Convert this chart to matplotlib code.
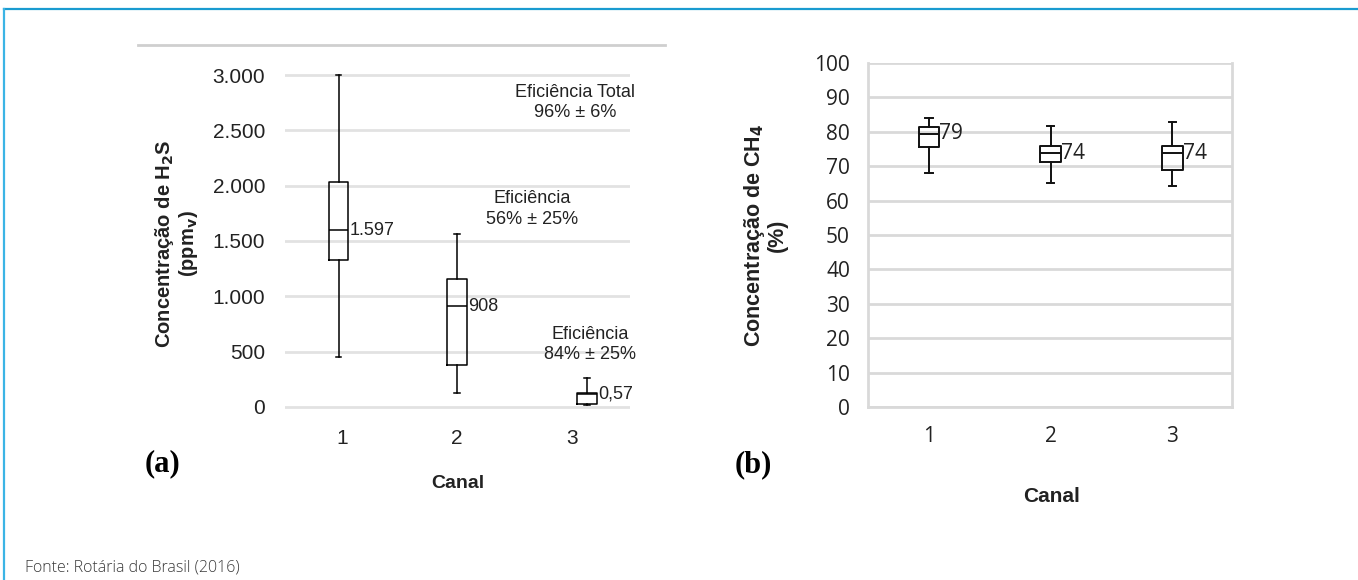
#
# Box plots of H2S and CH4 concentration per channel
#

import matplotlib.pyplot as plt
from matplotlib.lines import Line2D

# Data
canais = ["1", "2", "3"]

# (a) H2S concentration (ppmv)
h2s_whislo = [450, 130, 20]
h2s_q1 = [1330, 380, 30]
h2s_med = [1597, 908, 120]
h2s_q3 = [2030, 1160, 125]
h2s_whishi = [3000, 1560, 260]
h2s_labels = ["1.597", "908", "0,57"]
h2s_ticks = [0, 500, 1000, 1500, 2000, 2500, 3000]
h2s_ticklabels = ["0", "500", "1.000", "1.500", "2.000", "2.500", "3.000"]
efic_textos = ["Eficiência Total\n96% ± 6%", "Eficiência\n56% ± 25%", "Eficiência\n84% ± 25%"]

# (b) CH4 concentration (%)
ch4_whislo = [68.0, 65.2, 64.2]
ch4_q1 = [75.6, 71.2, 68.9]
ch4_med = [79.4, 73.8, 73.8]
ch4_q3 = [81.4, 76.0, 76.0]
ch4_whishi = [84.0, 81.8, 82.8]
ch4_labels = ["79", "74", "74"]

W, H = 1358, 580
fig = plt.figure(figsize=(W / 100, H / 100), dpi=100)

def px_axes(x0, y0, x1, y1):
    return fig.add_axes([x0 / W, 1 - y1 / H, (x1 - x0) / W, (y1 - y0) / H])

# frame
fig.add_artist(Line2D([4 / W, 1], [1 - 9 / H, 1 - 9 / H], color="#1a9bd0", lw=1.6))
fig.add_artist(Line2D([4 / W, 4 / W], [0, 1 - 9 / H], color="#3bb4e5", lw=1.6))
fig.add_artist(Line2D([138 / W, 665 / W], [1 - 45 / H, 1 - 45 / H], color="#cfcfcf", lw=2))
fig.text(25 / W, 1 - 568 / H, "Fonte: Rotária do Brasil (2016)", fontsize=11.5,
         color="#3a3a3a", family="Open Sans", fontweight="light", va="center", ha="left")

arial = ["Liberation Sans Narrow", "Liberation Sans"]

# ---------- panel (a)
ax = px_axes(284.5, 64, 629.5, 423.5)
stats = []
for i in range(3):
    stats.append(dict(whislo=h2s_whislo[i], q1=h2s_q1[i], med=h2s_med[i],
                      q3=h2s_q3[i], whishi=h2s_whishi[i], fliers=[]))
pos_a = [0.97, 2.0, 3.13]
lp = dict(color="black", lw=1.1)
ax.bxp(stats, positions=pos_a, widths=0.17, showfliers=False,
       boxprops=lp, medianprops=lp, whiskerprops=lp, capprops=lp, capwidths=0.05)
for i in range(3):
    ax.text(pos_a[i] + 0.095, h2s_med[i], h2s_labels[i], fontsize=13,
            family=arial, va="center", ha="left", color="#222222")
ax.text(3.03, 2755, efic_textos[0], fontsize=13, family=arial, ha="center", va="center",
        color="#222222", linespacing=1.25)
ax.text(2.65, 1790, efic_textos[1], fontsize=13, family=arial, ha="center", va="center",
        color="#222222", linespacing=1.25)
ax.text(3.16, 564, efic_textos[2], fontsize=13, family=arial, ha="center", va="center",
        color="#222222", linespacing=1.25)
ax.set_xlim(0.5, 3.5)
ax.set_ylim(-150, 3100)
ax.set_yticks(h2s_ticks)
ax.set_yticklabels(h2s_ticklabels, family=arial, fontsize=15, color="#222222")
ax.set_xticks([1, 2, 3])
ax.set_xticklabels(canais, family=arial, fontsize=15, color="#222222")
ax.tick_params(length=0, pad=14)
ax.tick_params(axis="x", pad=4)
ax.grid(axis="y", color="#e2e2e2", lw=2)
ax.set_axisbelow(True)
for s in ax.spines.values():
    s.set_visible(False)
ax.set_ylabel("Concentração de H$_\\mathbf{2}$S\n(ppm$_\\mathbf{v}$)", fontsize=14.5,
              fontweight="bold", family=arial, color="#222222", linespacing=1.05)
ax.yaxis.set_label_coords(-0.245, 0.5)
fig.text(458 / W, 1 - 483 / H, "Canal", fontsize=14, fontweight="bold", family=arial,
         ha="center", va="center", color="#222222")
fig.text(145 / W, 1 - 464 / H, "(a)", fontsize=22, fontweight="bold",
         family="Liberation Serif", ha="left", va="center")

# ---------- panel (b)
bx = px_axes(868, 63, 1232, 407)
stats = []
for i in range(3):
    stats.append(dict(whislo=ch4_whislo[i], q1=ch4_q1[i], med=ch4_med[i],
                      q3=ch4_q3[i], whishi=ch4_whishi[i], fliers=[]))
lp = dict(color="#111111", lw=1.4)
bx.bxp(stats, positions=[1, 2, 3], widths=0.17, showfliers=False,
       boxprops=lp, medianprops=lp, whiskerprops=lp, capprops=lp, capwidths=0.06)
for i in range(3):
    bx.text(i + 1 + 0.085, ch4_med[i], ch4_labels[i], fontsize=15,
            family="Open Sans", va="center", ha="left", color="#222222")
bx.set_xlim(0.5, 3.49)
bx.set_ylim(0, 100)
bx.set_yticks(range(0, 101, 10))
bx.set_xticks([1, 2, 3])
bx.set_xticklabels(canais)
for lab in bx.get_xticklabels() + bx.get_yticklabels():
    lab.set_family("Open Sans")
    lab.set_fontsize(15)
    lab.set_color("#222222")
bx.tick_params(length=0, pad=13)
bx.tick_params(axis="x", pad=14)
bx.grid(axis="y", color="#d9d9d9", lw=2)
bx.set_axisbelow(True)
for s in bx.spines.values():
    s.set_color("#d9d9d9")
    s.set_linewidth(2)
bx.spines["top"].set_visible(False)
bx.set_ylabel("Concentração de CH$_\\mathbf{4}$\n(%)", fontsize=15.5, fontweight="bold",
              family=arial, color="#222222", linespacing=1.0)
bx.yaxis.set_label_coords(-0.22, 0.5)
fig.text(1052 / W, 1 - 497 / H, "Canal", fontsize=15, fontweight="bold", family=arial,
         ha="center", va="center", color="#222222")
fig.text(735 / W, 1 - 465 / H, "(b)", fontsize=22, fontweight="bold",
         family="Liberation Serif", ha="left", va="center")

plt.savefig("out.png", dpi=100)
